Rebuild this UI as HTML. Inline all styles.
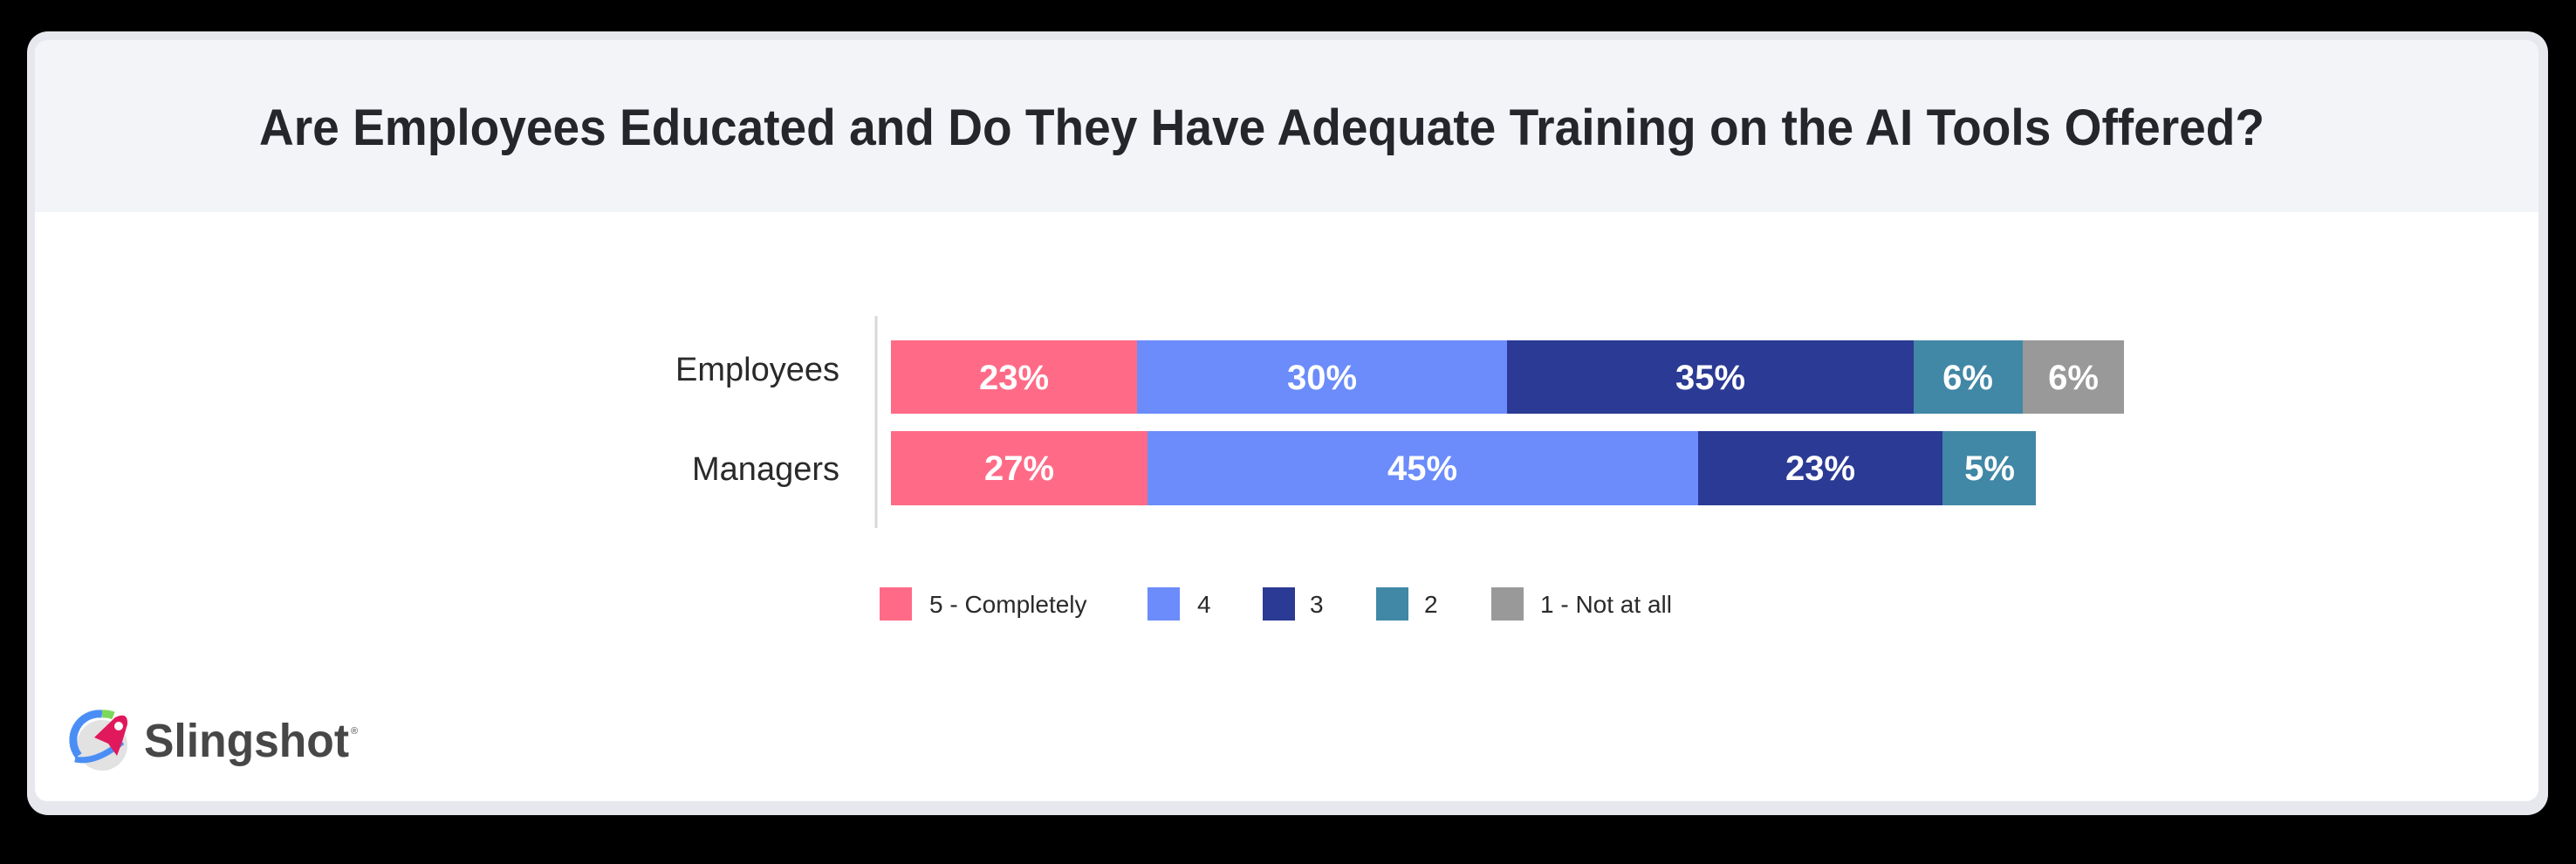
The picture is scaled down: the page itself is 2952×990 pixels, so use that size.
<!DOCTYPE html>
<html><head><meta charset="utf-8"><style>
html,body{margin:0;padding:0;background:#000;}
svg{display:block;}
text{font-family:"Liberation Sans",Arial,sans-serif;}
</style></head><body>
<svg width="2952" height="990" viewBox="0 0 2952 990" xmlns="http://www.w3.org/2000/svg">
<rect width="2952" height="990" fill="#000"/>
<rect x="31" y="36" width="2889" height="898" rx="24" fill="#e6e8ee"/>
<path d="M40 243 H2909 V904 a14 14 0 0 1 -14 14 H54 a14 14 0 0 1 -14 -14 Z" fill="#ffffff"/>
<path d="M40 243 V60 a14 14 0 0 1 14 -14 H2895 a14 14 0 0 1 14 14 V243 Z" fill="#f3f4f8"/>
<text x="1446" y="166" text-anchor="middle" font-size="58" font-weight="bold" fill="#24262b" textLength="2298" lengthAdjust="spacingAndGlyphs">Are Employees Educated and Do They Have Adequate Training on the AI Tools Offered?</text>
<line x1="1004" y1="362" x2="1004" y2="605" stroke="#d8d8d8" stroke-width="3"/>
<text x="962" y="436" text-anchor="end" font-size="38" fill="#2a2a2a">Employees</text>
<text x="962" y="550" text-anchor="end" font-size="38" fill="#2a2a2a">Managers</text>
<g>
<rect x="1021" y="390" width="282" height="84" fill="#ff6b87"/>
<rect x="1303" y="390" width="424" height="84" fill="#6b8cfa"/>
<rect x="1727" y="390" width="466" height="84" fill="#2b3a94"/>
<rect x="2193" y="390" width="125" height="84" fill="#4187a6"/>
<rect x="2318" y="390" width="116" height="84" fill="#999999"/>
<rect x="1021" y="494" width="294" height="85" fill="#ff6b87"/>
<rect x="1315" y="494" width="631" height="85" fill="#6b8cfa"/>
<rect x="1946" y="494" width="280" height="85" fill="#2b3a94"/>
<rect x="2226" y="494" width="107" height="85" fill="#4187a6"/>
</g>
<g font-size="40" font-weight="bold" fill="#fff" text-anchor="middle">
<text x="1162" y="446">23%</text>
<text x="1515" y="446">30%</text>
<text x="1960" y="446">35%</text>
<text x="2255" y="446">6%</text>
<text x="2376" y="446">6%</text>
<text x="1168" y="550">27%</text>
<text x="1630" y="550">45%</text>
<text x="2086" y="550">23%</text>
<text x="2280" y="550">5%</text>
</g>
<rect x="1008" y="673" width="37" height="38" fill="#ff6b87"/>
<rect x="1315" y="673" width="37" height="38" fill="#6b8cfa"/>
<rect x="1447" y="673" width="37" height="38" fill="#2b3a94"/>
<rect x="1577" y="673" width="37" height="38" fill="#4187a6"/>
<rect x="1709" y="673" width="37" height="38" fill="#999999"/>
<g font-size="28" fill="#2a2a2a">
<text x="1065" y="702">5 - Completely</text>
<text x="1372" y="702">4</text>
<text x="1501" y="702">3</text>
<text x="1632" y="702">2</text>
<text x="1765" y="702">1 - Not at all</text>
</g>
<circle cx="117" cy="854" r="29" fill="#e2e2e2"/>
<path d="M90 866 A30 30 0 0 1 117 818" stroke="#4a8ef5" stroke-width="9" fill="none"/>
<path d="M117 818 A30 30 0 0 1 130 820" stroke="#7cd85a" stroke-width="9" fill="none"/>
<path d="M86 870 Q110 875 140 850" stroke="#4a8ef5" stroke-width="7" fill="none"/>
<path d="M108 845 L132 822 Q147 815 146 830 L140 850 L134 866 L124 852 Z" fill="#e0195c"/>
<circle cx="136" cy="832" r="5" fill="#fff"/>
<text x="165" y="867" font-size="54" font-weight="bold" fill="#474747" textLength="235" lengthAdjust="spacingAndGlyphs">Slingshot</text>
<text x="402" y="841" font-size="11" fill="#474747">®</text>
</svg>
</body></html>
